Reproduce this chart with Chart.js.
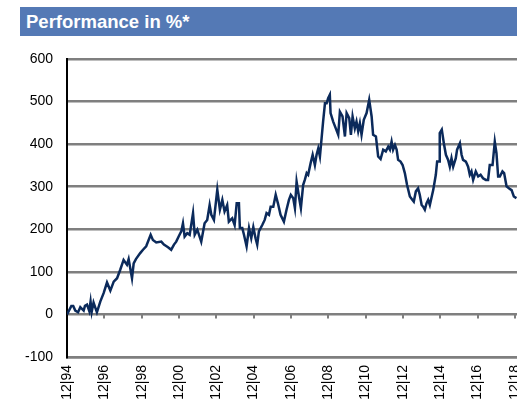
<!DOCTYPE html>
<html>
<head>
<meta charset="utf-8">
<script src="https://cdn.jsdelivr.net/npm/chart.js@4"></script>
<style>
  body { margin: 0; width: 517px; height: 405px; overflow: hidden; background: #fff; }
  #hdr {
    position: absolute; left: 20px; top: 7px; width: 497px; height: 29px;
    background: #5479b5; color: #fff; box-sizing: border-box; padding-left: 6px;
    font: bold 18.5px "Liberation Sans", Arial, sans-serif; line-height: 29px;
  }
  #wrap { position: absolute; left: 0; top: 0; width: 517px; height: 405px; }
</style>
</head>
<body>
<div id="hdr">Performance in %*</div>
<div id="wrap"><canvas id="my-chart" width="517" height="405"></canvas></div>
<script>
// dates as decimal years, values in %
const dates = [
  1994.92, 1995.15, 1995.25, 1995.36, 1995.51, 1995.63, 1995.81, 1995.88, 1995.99, 1996.11,
  1996.18, 1996.24, 1996.34, 1996.52, 1996.70, 1996.88, 1997.06, 1997.24, 1997.42, 1997.60,
  1997.77, 1997.95, 1998.13, 1998.22, 1998.40, 1998.49, 1998.61, 1998.84, 1998.99, 1999.16,
  1999.40, 1999.52, 1999.70, 1999.97, 2000.11, 2000.33, 2000.50, 2000.65, 2000.77, 2000.90,
  2001.04, 2001.13, 2001.22, 2001.36, 2001.49, 2001.67, 2001.76, 2001.90, 2002.11, 2002.29,
  2002.43, 2002.56, 2002.65, 2002.79, 2002.97, 2003.11, 2003.24, 2003.36, 2003.50, 2003.59,
  2003.77, 2003.90, 2004.01, 2004.13, 2004.18, 2004.31, 2004.40, 2004.54, 2004.67, 2004.79,
  2004.90, 2005.02, 2005.11, 2005.20, 2005.38, 2005.51, 2005.61, 2005.74, 2005.83, 2005.97,
  2006.10, 2006.22, 2006.36, 2006.54, 2006.68, 2006.81, 2006.91, 2007.04, 2007.13, 2007.22,
  2007.36, 2007.45, 2007.57, 2007.66, 2007.76, 2007.84, 2007.97, 2008.08, 2008.20, 2008.29,
  2008.38, 2008.47, 2008.56, 2008.64, 2008.74, 2008.83, 2008.91, 2009.00, 2009.04, 2009.18,
  2009.32, 2009.45, 2009.54, 2009.68, 2009.81, 2009.90, 2010.04, 2010.13, 2010.22, 2010.34,
  2010.43, 2010.52, 2010.61, 2010.70, 2010.82, 2010.97, 2011.11, 2011.24, 2011.32, 2011.47,
  2011.59, 2011.72, 2011.86, 2012.00, 2012.13, 2012.22, 2012.31, 2012.39, 2012.49, 2012.58,
  2012.66, 2012.79, 2012.90, 2013.02, 2013.14, 2013.29, 2013.43, 2013.50, 2013.61, 2013.73,
  2013.82, 2013.92, 2014.00, 2014.09, 2014.18, 2014.27, 2014.36, 2014.54, 2014.68, 2014.75,
  2014.86, 2014.89, 2015.00, 2015.11, 2015.22, 2015.34, 2015.43, 2015.52, 2015.61, 2015.75,
  2015.82, 2015.97, 2016.06, 2016.14, 2016.29, 2016.41, 2016.50, 2016.59, 2016.68, 2016.82,
  2016.95, 2017.08, 2017.21, 2017.36, 2017.48, 2017.57, 2017.72, 2017.84, 2017.93, 2018.02,
  2018.11, 2018.25, 2018.34, 2018.47, 2018.61, 2018.74, 2018.86, 2019.00
];
const perf = [
  0, 20, 20, 9, 5, 17, 9, 20, 23, 8,
  30, 6, 28, 5, 30, 50, 75, 56, 77, 85,
  105, 128, 117, 130, 85, 120, 130, 144, 152, 160,
  187, 175, 169, 171, 164, 158, 152, 164, 171, 183,
  195, 214, 183, 191, 187, 238, 187, 199, 171, 214,
  222, 257, 234, 222, 293, 246, 269, 242, 257, 218,
  226, 210, 261, 261, 203, 203, 187, 160, 203, 179,
  205, 179, 164, 195, 210, 222, 238, 234, 253, 253,
  281, 261, 234, 218, 246, 269, 281, 273, 250, 312,
  273, 250, 304, 316, 332, 328, 355, 375, 351, 375,
  390, 371, 414, 453, 496, 496, 508, 516, 473, 453,
  437, 422, 476, 465, 418, 473, 461, 422, 465, 437,
  453, 430, 449, 422, 457, 473, 504, 465, 422, 418,
  371, 365, 387, 383, 394, 387, 406, 387, 398, 387,
  363, 359, 351, 332, 304, 277, 269, 265, 289, 296,
  281, 257, 253, 246, 261, 269, 257, 292, 328, 359,
  359, 426, 434, 402, 375, 363, 347, 367, 347, 367,
  387, 402, 375, 363, 359, 347, 328, 336, 316, 336,
  324, 328, 320, 316, 316, 351, 351, 406, 379, 324,
  324, 336, 332, 301, 296, 292, 277, 273
];
const tickYears = [1994.917, 1996.917, 1998.917, 2000.917, 2002.917, 2004.917, 2006.917,
  2008.917, 2010.917, 2012.917, 2014.917, 2016.917, 2018.917];
const tickLabels = ['12|94', '12|96', '12|98', '12|00', '12|02', '12|04', '12|06',
  '12|08', '12|10', '12|12', '12|14', '12|16', '12|18'];
const yTicks = [-100, 0, 100, 200, 300, 400, 500, 600];

const points = dates.map((d, i) => ({ x: d, y: perf[i] }));

// small tick marks hanging under the zero line
const zeroTicks = {
  id: 'zeroTicks',
  afterDatasetsDraw(chart) {
    const { ctx, scales: { x, y } } = chart;
    const y0 = y.getPixelForValue(0);
    ctx.save();
    ctx.strokeStyle = '#7f7f7f';
    ctx.lineWidth = 2;
    x.ticks.forEach((t, i) => {
      if (i === 0) return;
      const px = Math.round(x.getPixelForValue(t.value));
      ctx.beginPath();
      ctx.moveTo(px, y0);
      ctx.lineTo(px, y0 + 4);
      ctx.stroke();
    });
    ctx.restore();
  }
};

const ctx = document.getElementById('my-chart').getContext('2d');
const chart = new Chart(ctx, {
  type: 'line',
  data: {
    datasets: [{
      data: points,
      borderColor: '#0b2a5b',
      borderWidth: 2.5,
      pointRadius: 0,
      tension: 0,
      fill: false
    }]
  },
  options: {
    responsive: false,
    animation: false,
    layout: { padding: { top: 59, left: 25, right: 0, bottom: 5 } },
    plugins: { legend: { display: false }, tooltip: { enabled: false } },
    scales: {
      x: {
        type: 'linear',
        min: 1994.917,
        max: 2019.03,
        grid: { display: false, drawTicks: false },
        border: { display: true, color: '#7f7f7f', width: 2.5 },
        afterBuildTicks: axis => { axis.ticks = tickYears.map(v => ({ value: v })); },
        afterFit: axis => { axis.paddingLeft = 0; axis.paddingRight = 0; axis.height = 43; },
        ticks: {
          autoSkip: false,
          maxRotation: 90,
          minRotation: 90,
          padding: 8,
          color: '#000',
          font: { family: 'Liberation Sans', size: 14 },
          callback: (v, i) => tickLabels[i]
        }
      },
      y: {
        min: -100,
        max: 600,
        afterBuildTicks: axis => { axis.ticks = yTicks.map(v => ({ value: v })); },
        afterFit: axis => { axis.width = 42; },
        grid: { color: '#7f7f7f', lineWidth: 2.5, drawTicks: false },
        border: { display: true, color: '#000', width: 2 },
        ticks: {
          padding: 14,
          color: '#000',
          font: { family: 'Liberation Sans', size: 14 }
        }
      }
    }
  },
  plugins: [zeroTicks]
});
</script>
</body>
</html>
